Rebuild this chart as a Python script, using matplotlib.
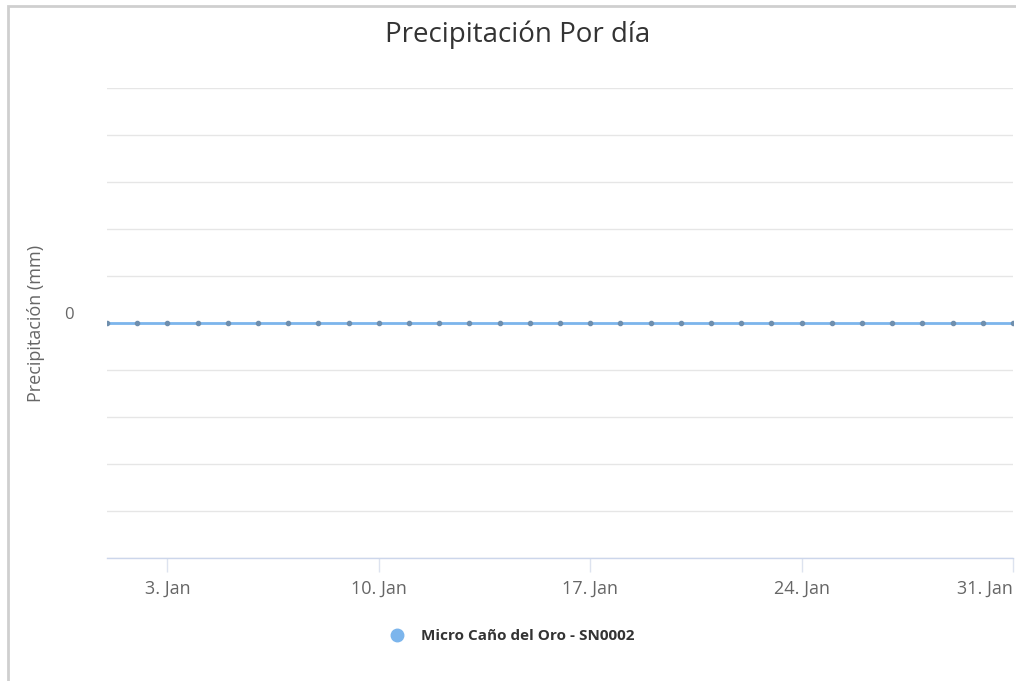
import datetime as dt

import matplotlib
matplotlib.use("Agg")
import matplotlib.pyplot as plt
import matplotlib.dates as mdates
from matplotlib.lines import Line2D
from matplotlib.patches import Rectangle

# Daily precipitation, January (all zero)
days = list(range(1, 32))
precip_mm = [0, 0, 0, 0, 0, 0, 0, 0, 0, 0,
             0, 0, 0, 0, 0, 0, 0, 0, 0, 0,
             0, 0, 0, 0, 0, 0, 0, 0, 0, 0, 0]
tick_days = [3, 10, 17, 24, 31]
series_name = "Micro Caño del Oro - SN0002"
title = "Precipitación Por día"
y_label = "Precipitación (mm)"

dates = [dt.date(2020, 1, d) for d in days]

plt.rcParams['font.family'] = ['Open Sans', 'DejaVu Sans']

fig = plt.figure(figsize=(10.16, 6.81), dpi=100)
fig.patch.set_facecolor('white')

# Outer frame (screenshot border)
fig.patches.append(Rectangle((8 / 1016, -0.01), 1.2, 1 - 6 / 681 + 0.01,
                             transform=fig.transFigure, fill=False,
                             edgecolor='#cfcfcf', linewidth=2))

ax = fig.add_axes([107 / 1016, 1 - 558 / 681, (1013 - 107) / 1016, (558 - 88) / 681])

ax.plot(dates, precip_mm, color='#7cb5ec', linewidth=2, zorder=3)
ax.plot(dates, precip_mm, linestyle='none', marker='o', markersize=3,
        color='#6f8fae', zorder=4)

ax.set_xlim(dates[0], dates[-1])
ax.set_ylim(-1, 1)

# Horizontal grid, only zero labelled
yt = [i / 5 for i in range(-5, 6)]
ax.set_yticks(yt)
ax.set_yticklabels(["0" if abs(v) < 1e-9 else "" for v in yt])
ax.grid(axis='y', color='#e6e6e6', linewidth=1)
ax.set_axisbelow(True)
ax.tick_params(axis='y', length=0, pad=24, labelsize=12, labelcolor='#666666')
for lab in ax.get_yticklabels():
    lab.set_verticalalignment('bottom')

ax.xaxis.set_major_locator(mdates.DayLocator(bymonthday=tick_days))
ax.xaxis.set_major_formatter(plt.FuncFormatter(
    lambda x, pos: f"{mdates.num2date(x).day}. Jan"))
ax.tick_params(axis='x', length=10, width=1, color='#dde3ef',
               labelsize=13, labelcolor='#666666', pad=6)
fig.canvas.draw()
ax.get_xticklabels()[-1].set_horizontalalignment('right')

for side in ['top', 'right', 'left']:
    ax.spines[side].set_visible(False)
ax.spines['bottom'].set_color('#ccd6eb')
ax.spines['bottom'].set_linewidth(1)

ax.set_ylabel(y_label, fontsize=13, color='#666666', labelpad=14)

fig.text(0.509, 1 - 35 / 681, title, ha='center', va='center',
         fontsize=20, color='#333333')

handle = Line2D([], [], linestyle='none', marker='o', markersize=9,
                color='#7cb5ec')
fig.legend([handle], [series_name], loc='center', bbox_to_anchor=(0.5, 1 - 636 / 681),
           frameon=False, handletextpad=0.6,
           prop={'weight': 'bold', 'size': 11})
for t in fig.legends[0].get_texts():
    t.set_color('#333333')

fig.savefig("out.png", dpi=100, facecolor='white')
